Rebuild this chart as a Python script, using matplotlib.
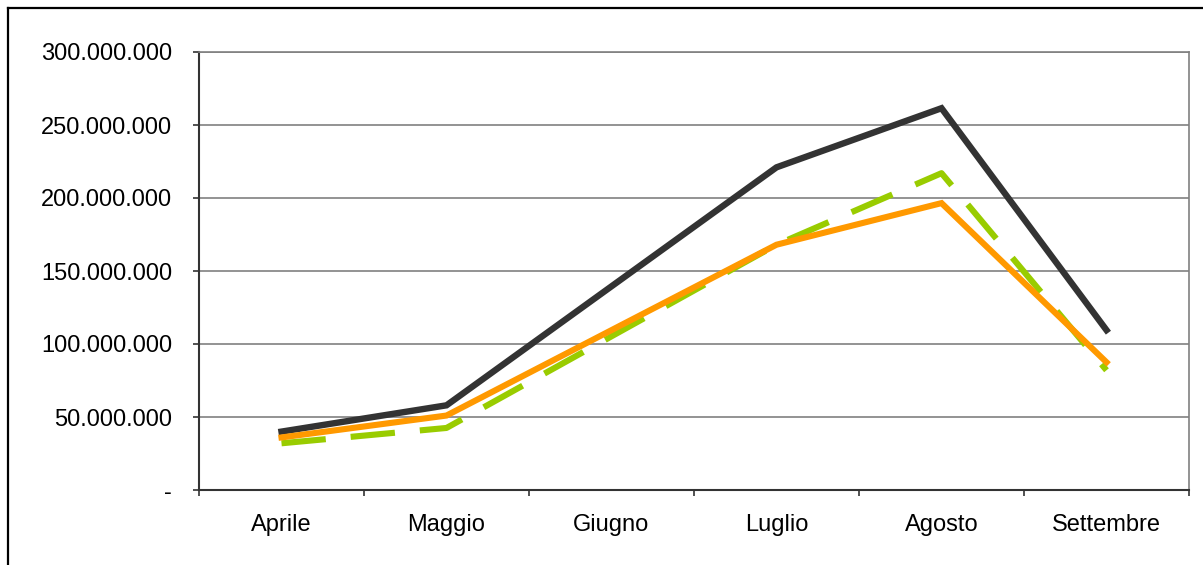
import matplotlib.pyplot as plt
from matplotlib.ticker import FuncFormatter, FixedLocator
from matplotlib.lines import Line2D

plt.rcParams['font.family'] = ['Liberation Sans', 'DejaVu Sans']
plt.rcParams['lines.scale_dashes'] = False

# dati mensili
mesi = ['Aprile', 'Maggio', 'Giugno', 'Luglio', 'Agosto', 'Settembre']
serie_nera = [40e6, 58e6, None, 221e6, 261.5e6, 109.5e6]
serie_arancio = [36e6, 51e6, None, 168e6, 196.5e6, 87.5e6]
serie_verde = [32e6, 42.5e6, None, 168e6, 217e6, 82e6]

W, H = 1203, 565
fig = plt.figure(figsize=(W / 100, H / 100), dpi=100)

# cornice esterna
fig.add_artist(Line2D([8 / W, 8 / W], [0, 1 - 8 / H], transform=fig.transFigure, color='black', lw=1.6))
fig.add_artist(Line2D([8 / W, 1], [1 - 8 / H, 1 - 8 / H], transform=fig.transFigure, color='black', lw=1.6))

left, right, top, bottom = 199, 1189, 52, 490
ax = fig.add_axes([left / W, 1 - bottom / H, (right - left) / W, (bottom - top) / H])


def punti(valori):
    xs, ys = [], []
    for i, v in enumerate(valori):
        if v is not None:
            xs.append(i)
            ys.append(v)
    return xs, ys


# Giugno non ha un valore: la linea unisce Maggio e Luglio
x, y = punti(serie_nera)
ax.plot(x, y, color='#333333', lw=4.6, solid_joinstyle='miter', zorder=3)
x, y = punti(serie_verde)
ax.plot(x, y, color='#99CC00', lw=4.4, dashes=(32, 18), dash_capstyle='butt', zorder=3)
x, y = punti(serie_arancio)
ax.plot(x, y, color='#FF9900', lw=4.4, solid_joinstyle='miter', zorder=4)

ax.set_xlim(-0.5, len(mesi) - 0.5)
ax.set_ylim(0, 300e6)

ax.set_yticks([i * 50e6 for i in range(7)])
ax.yaxis.set_major_formatter(FuncFormatter(
    lambda v, p: '-' if v == 0 else f'{int(v):,}'.replace(',', '.')))
ax.yaxis.grid(True, color='#808080', lw=1.2)
ax.set_axisbelow(True)

ax.set_xticks(range(len(mesi)))
ax.set_xticklabels(mesi)
ax.xaxis.set_minor_locator(FixedLocator([i - 0.5 for i in range(len(mesi) + 1)]))
ax.tick_params(axis='x', which='major', length=0, pad=17.5, labelsize=17)
ax.tick_params(axis='x', which='minor', length=4.3, width=1.2, color='#333333', direction='out')
ax.tick_params(axis='y', length=4.3, width=1.2, color='#333333', pad=15, labelsize=17)

for s in ['top', 'right']:
    ax.spines[s].set_color('#808080')
    ax.spines[s].set_linewidth(1.2)
for s in ['left', 'bottom']:
    ax.spines[s].set_color('#333333')
    ax.spines[s].set_linewidth(1.5)

fig.savefig('out.png', dpi=100, facecolor='white')
